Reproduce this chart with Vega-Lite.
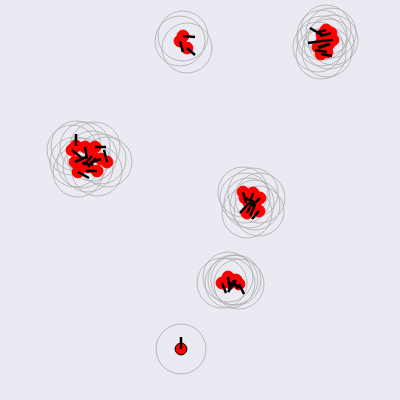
{
  "$schema": "https://vega.github.io/schema/vega-lite/v6.json",
  "width": 400,
  "height": 400,
  "autosize": {"type": "fit", "contains": "padding"},
  "padding": 0,
  "background": "#eaeaf2",
  "config": {"view": {"stroke": null}},
  "data": {
    "values": [
      {"c": "F", "x": 181, "y": 349, "x2": 181, "y2": 337},
      {"c": "A", "x": 183, "y": 36, "x2": 195, "y2": 37},
      {"c": "A", "x": 180, "y": 41, "x2": 183, "y2": 52},
      {"c": "A", "x": 187, "y": 48, "x2": 195, "y2": 55},
      {"c": "B", "x": 76, "y": 146, "x2": 76, "y2": 134},
      {"c": "B", "x": 72, "y": 150, "x2": 83, "y2": 159},
      {"c": "B", "x": 75, "y": 162, "x2": 86, "y2": 157},
      {"c": "B", "x": 78, "y": 172, "x2": 89, "y2": 178},
      {"c": "B", "x": 85, "y": 147, "x2": 87, "y2": 159},
      {"c": "B", "x": 95, "y": 147, "x2": 106, "y2": 147},
      {"c": "B", "x": 92, "y": 156, "x2": 84, "y2": 165},
      {"c": "B", "x": 107, "y": 162, "x2": 104, "y2": 150},
      {"c": "B", "x": 101, "y": 159, "x2": 90, "y2": 163},
      {"c": "B", "x": 88, "y": 167, "x2": 96, "y2": 158},
      {"c": "B", "x": 97, "y": 171, "x2": 86, "y2": 171},
      {"c": "B", "x": 82, "y": 163, "x2": 93, "y2": 165},
      {"c": "C", "x": 322, "y": 35, "x2": 310, "y2": 28},
      {"c": "C", "x": 326, "y": 30, "x2": 316, "y2": 33},
      {"c": "C", "x": 331, "y": 33, "x2": 320, "y2": 36},
      {"c": "C", "x": 333, "y": 40, "x2": 322, "y2": 41},
      {"c": "C", "x": 322, "y": 41, "x2": 308, "y2": 43},
      {"c": "C", "x": 318, "y": 47, "x2": 330, "y2": 44},
      {"c": "C", "x": 327, "y": 52, "x2": 315, "y2": 50},
      {"c": "C", "x": 321, "y": 54, "x2": 332, "y2": 56},
      {"c": "C", "x": 329, "y": 44, "x2": 319, "y2": 48},
      {"c": "D", "x": 243, "y": 192, "x2": 246, "y2": 203},
      {"c": "D", "x": 253, "y": 193, "x2": 250, "y2": 204},
      {"c": "D", "x": 260, "y": 198, "x2": 252, "y2": 206},
      {"c": "D", "x": 249, "y": 203, "x2": 240, "y2": 213},
      {"c": "D", "x": 247, "y": 213, "x2": 252, "y2": 203},
      {"c": "D", "x": 259, "y": 211, "x2": 252, "y2": 219},
      {"c": "D", "x": 255, "y": 205, "x2": 250, "y2": 216},
      {"c": "D", "x": 245, "y": 198, "x2": 256, "y2": 203},
      {"c": "E", "x": 222, "y": 283, "x2": 226, "y2": 293},
      {"c": "E", "x": 228, "y": 277, "x2": 230, "y2": 290},
      {"c": "E", "x": 233, "y": 280, "x2": 238, "y2": 289},
      {"c": "E", "x": 239, "y": 284, "x2": 244, "y2": 294},
      {"c": "E", "x": 230, "y": 283, "x2": 240, "y2": 287},
      {"c": "E", "x": 236, "y": 280, "x2": 228, "y2": 292}
    ]
  },
  "encoding": {
    "x": {"field": "x", "type": "quantitative", "scale": {"domain": [0, 400], "nice": false, "zero": false}, "axis": null},
    "y": {"field": "y", "type": "quantitative", "scale": {"domain": [0, 400], "nice": false, "zero": false, "reverse": true}, "axis": null}
  },
  "layer": [
    {"mark": {"type": "point", "shape": "circle", "filled": false, "size": 2500, "stroke": "#b0b0b0", "strokeWidth": 1, "opacity": 0.85}},
    {"mark": {"type": "point", "shape": "circle", "filled": true, "size": 140, "fill": "red", "strokeWidth": 1, "opacity": 1},
     "encoding": {"stroke": {"field": "c", "type": "nominal", "legend": null,
       "scale": {"domain": ["A", "B", "C", "D", "E", "F"], "range": ["red", "red", "red", "red", "red", "black"]}}}},
    {"mark": {"type": "rule", "color": "black", "strokeWidth": 2.5},
     "encoding": {"x2": {"field": "x2"}, "y2": {"field": "y2"}}}
  ]
}
